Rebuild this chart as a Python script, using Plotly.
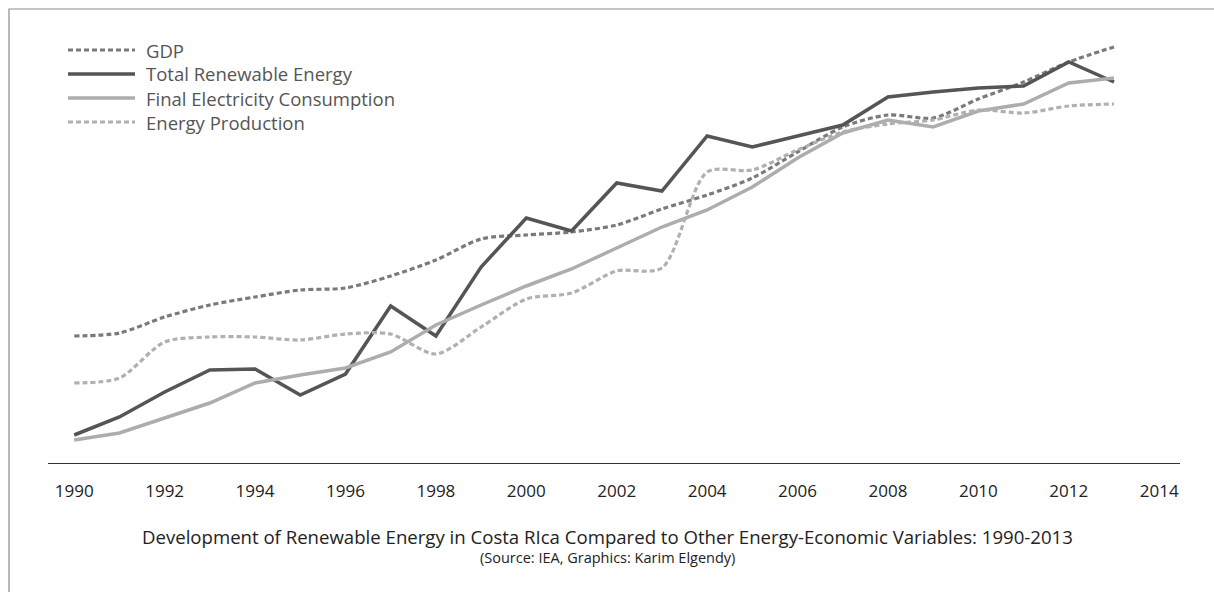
import plotly.graph_objects as go

years = list(range(1990, 2014))
gdp = [127, 130, 146, 158, 166, 173, 175, 187, 203, 224, 228, 231, 238, 254, 268, 285, 311, 336, 348, 345, 364, 381, 401, 416]
renewable = [28, 46, 71, 93, 94, 68, 89, 157, 127, 196, 245, 232, 280, 272, 327, 316, 327, 338, 366, 371, 375, 377, 401, 381]
electricity = [23, 30, 45, 60, 80, 88, 95, 111, 138, 158, 177, 194, 215, 236, 253, 276, 305, 330, 343, 336, 352, 359, 380, 385]
production = [80, 85, 121, 126, 126, 123, 129, 129, 109, 136, 164, 170, 192, 195, 291, 293, 313, 331, 339, 343, 353, 350, 357, 359]

names = ["GDP", "Total Renewable Energy", "Final Electricity Consumption", "Energy Production"]
tick_vals = list(range(1990, 2015, 2))
title = "Development of Renewable Energy in Costa RIca Compared to Other Energy-Economic Variables: 1990-2013"
subtitle = "(Source: IEA, Graphics: Karim Elgendy)"

styles = [
    dict(color="#7a7a7a", width=3.2, dash="5px,3px", shape="spline"),
    dict(color="#555555", width=3.5, dash="solid", shape="linear"),
    dict(color="#adadad", width=3.5, dash="solid", shape="linear"),
    dict(color="#b0b0b0", width=3.2, dash="5px,3px", shape="spline"),
]
series = [gdp, renewable, electricity, production]

W, H = 1214, 592
L, R, T, B = 48, 34, 20, 129
pw, ph = W - L - R, H - T - B

def px(x):
    return (x - L) / pw

def py(y):
    return (H - B - y) / ph

fig = go.Figure()
for name, vals, st in zip(names, series, styles):
    fig.add_trace(go.Scatter(
        x=years, y=vals, name=name, mode="lines",
        line=dict(color=st["color"], width=st["width"], dash=st["dash"], shape=st["shape"],
                  smoothing=0.8 if st["shape"] == "spline" else None),
        showlegend=False,
    ))

shapes = []
annotations = []
# frame
shapes.append(dict(type="rect", xref="paper", yref="paper",
                   x0=px(9), x1=px(1230), y0=py(610), y1=py(9),
                   line=dict(color="#8c8c8c", width=1.2), fillcolor="rgba(0,0,0,0)", layer="below"))
# custom legend
leg_y = [50, 74, 98, 122]
for name, st, yy in zip(names, styles, leg_y):
    shapes.append(dict(type="line", xref="paper", yref="paper",
                       x0=px(68), x1=px(135), y0=py(yy), y1=py(yy),
                       line=dict(color=st["color"], width=st["width"], dash=st["dash"])))
    annotations.append(dict(text=name, xref="paper", yref="paper", x=px(144), y=py(yy),
                            xanchor="left", yanchor="middle", showarrow=False,
                            font=dict(family="Open Sans", size=18.5, color="#555555")))
annotations.append(dict(text=title, xref="paper", yref="paper", x=px(607), y=py(536),
                        xanchor="center", yanchor="middle", showarrow=False,
                        font=dict(family="Open Sans", size=18.6, color="#222222")))
annotations.append(dict(text=subtitle, xref="paper", yref="paper", x=px(607), y=py(557),
                        xanchor="center", yanchor="middle", showarrow=False,
                        font=dict(family="Open Sans", size=14.5, color="#222222")))

fig.update_layout(
    width=W, height=H,
    margin=dict(l=L, r=R, t=T, b=B, pad=0),
    paper_bgcolor="white", plot_bgcolor="white",
    shapes=shapes, annotations=annotations,
    xaxis=dict(range=[1989.42, 2014.46], tickvals=tick_vals, ticktext=[str(v) for v in tick_vals],
               showgrid=False, zeroline=False, showline=True, linecolor="#333333", linewidth=1.2,
               ticks="", ticklabelstandoff=12,
               tickfont=dict(family="Open Sans", size=17, color="#222222")),
    yaxis=dict(range=[0, ph], showgrid=False, zeroline=False, showline=False, showticklabels=False),
    font=dict(family="Open Sans"),
)

fig.write_html("out.html", config={"displayModeBar": False},
               post_script="document.body.style.margin='0';document.body.style.overflow='hidden';")
